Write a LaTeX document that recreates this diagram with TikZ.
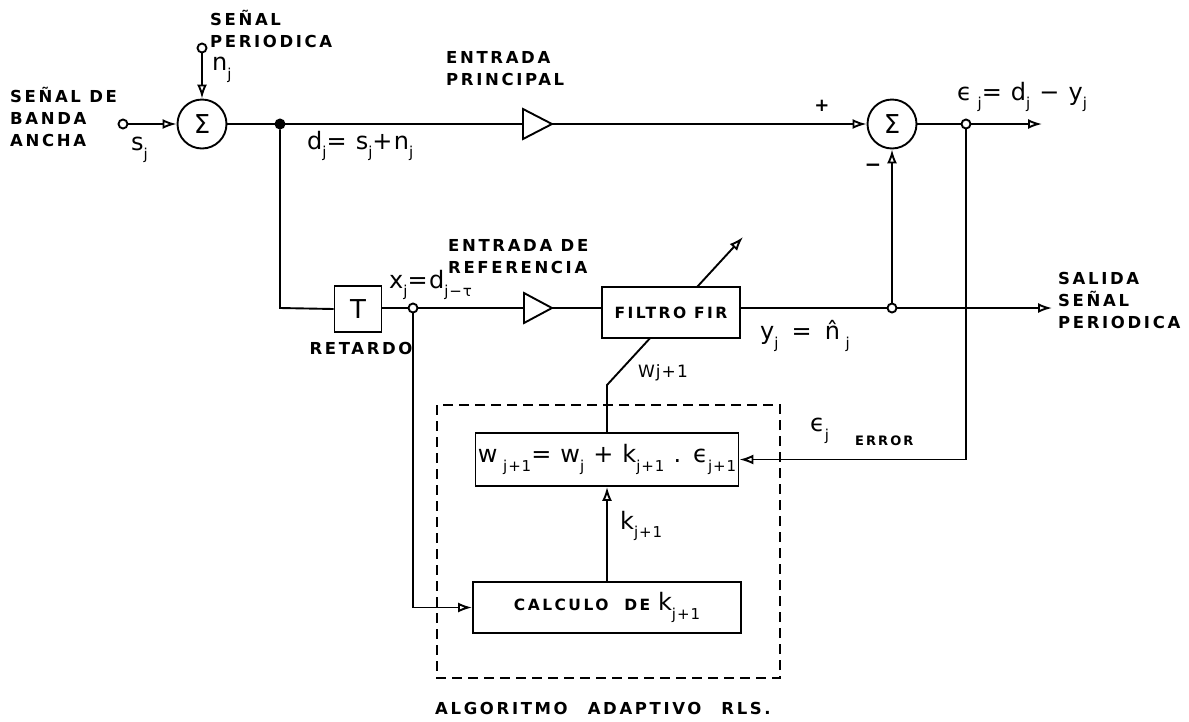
\documentclass[tikz,border=0pt]{standalone}
\usepackage{fontspec}
\setmainfont{DejaVu Sans}
\newfontfamily\capf[LetterSpace=16]{DejaVu Sans}
\newfontfamily\labf[LetterSpace=6]{DejaVu Sans}
\usetikzlibrary{arrows.meta}
\newcommand\sbs[1]{\raisebox{-0.35em}{\fontsize{15}{15}\selectfont #1}}
\tikzset{
  wire/.style={line width=1.9pt},
  arr/.style={wire,-{Latex[open,length=14pt,width=10pt]}},
  caps/.style={font=\capf\bfseries\fontsize{16.5}{22}\selectfont, align=left, inner sep=0},
  smallcaps/.style={font=\capf\bfseries\fontsize{13}{14}\selectfont, inner sep=0},
  lab/.style={font=\labf\fontsize{24}{24}\selectfont, inner sep=0},
  blk/.style={draw, line width=1.9pt, fill=white, inner sep=0},
  sumc/.style={draw, circle, line width=1.9pt, minimum size=49pt, inner sep=0, fill=white, font=\fontsize{26}{26}\selectfont},
  term/.style={draw, circle, line width=1.9pt, minimum size=9pt, inner sep=0, fill=white},
  junc/.style={draw, circle, line width=1.9pt, minimum size=9pt, inner sep=0, fill=white},
}
\begin{document}
\begin{tikzpicture}[x=1pt,y=-1pt]
\useasboundingbox (0,0) rectangle (1189,721);
\fill[white] (0,0) rectangle (1189,721);

% terminals and junctions
\node[term] (in) at (123,124) {};
\node[term] (pin) at (202,48) {};
\node[sumc] (s1) at (202,124) {Σ};
\node[junc,fill=black] (j1) at (280,124) {};
\node[sumc] (s2) at (892,124) {Σ};
\node[junc] (j2) at (966,124) {};
\coordinate (out1) at (1042,124);
\coordinate (c1) at (280,308);
\node[blk, minimum width=47pt, minimum height=46pt, font=\fontsize{26}{26}\selectfont] (T) at (358,309) {T};
\node[junc] (j4) at (413,308) {};
\node[junc] (j5) at (892,308) {};
\coordinate (out2) at (1052,308);

% amplifiers
\coordinate (a1w) at (523,124);
\coordinate (a1e) at (552,124);
\draw[wire] (523,109) -- (a1e) -- (523,139) -- cycle;
\coordinate (a2w) at (524,308);
\coordinate (a2e) at (552,308);
\draw[wire] (524,293) -- (a2e) -- (524,323) -- cycle;

% adaptive algorithm blocks
\draw[line width=2pt, dash pattern=on 10pt off 6pt] (437,405) rectangle (780,678);
\node[blk, minimum width=263pt, minimum height=53pt] (upd) at (607,459.5)
  {\labf\fontsize{24}{24}\selectfont w\sbs{ j+1}= w\sbs{j} + k\sbs{j+1} . ϵ\sbs{j+1}};
\node[blk, minimum width=268pt, minimum height=51pt] (calc) at (607,607.5)
  {\capf\bfseries\fontsize{15.5}{15.5}\selectfont CALCULO\ \ DE \mdseries\labf\fontsize{24}{24}\selectfont k\sbs{j+1}};

% adjustable filter arrow (drawn before the filter box)
\coordinate (dg1) at (607,385);
\coordinate (dg2) at (743,237);
\draw[arr] (upd.north) -- (dg1) -- (dg2);
\node[blk, minimum width=138pt, minimum height=51pt, font=\capf\bfseries\fontsize{15.5}{15.5}\selectfont] (fir) at (671,312.5) {FILTRO FIR};

% connectors
\draw[arr] (in) -- (s1.west);
\draw[arr] (pin) -- (s1.north);
\draw[wire] (s1.east) -- (j1) -- (a1w);
\draw[arr] (a1e) -- (s2.west);
\draw[wire] (s2.east) -- (j2);
\draw[arr] (j2) -- (out1);
\draw[wire] (j1) -- (c1) -- (T.west);
\draw[wire] (T.east |- j4) -- (j4) -- (a2w);
\draw[wire] (a2e) -- (a2e -| fir.west);
\draw[wire] (fir.east |- j5) -- (j5);
\draw[arr] (j5) -- (out2);
\draw[arr] (j5) -- (s2.south);
\draw[arr] (j2) -- (j2 |- upd.east) -- (upd.east);
\draw[arr] (j4) -- (j4 |- calc.west) -- (calc.west);
\draw[arr] (calc.north) -- (upd.south);

% labels
\node[caps, anchor=west] (lin) at (10,117) {SEÑAL DE\\BANDA\\ANCHA};
\node[caps, anchor=west] (lper) at (210,29) {SEÑAL\\PERIODICA};
\node[lab, anchor=west] (lnj) at (212,70) {n\sbs{j}};
\node[lab, anchor=west] (lsj) at (131,150) {s\sbs{j}};
\node[lab, anchor=west] (ldj) at (307,146) {d\sbs{j}= s\sbs{j}+n\sbs{j}};
\node[caps, anchor=west] (lep) at (446,69) {ENTRADA\\PRINCIPAL};
\node[font=\fontsize{18}{18}\selectfont\bfseries, inner sep=0] (lplus) at (822,106) {+};
\node[font=\fontsize{20}{20}\selectfont\bfseries, inner sep=0] (lminus) at (873,168) {−};
\node[lab, anchor=west] (lej) at (957,97) {ϵ\sbs{ j}= d\sbs{j} − y\sbs{j}};
\node[caps, anchor=west] (ler) at (448,257) {ENTRADA DE\\REFERENCIA};
\node[lab, anchor=west] (lxj) at (389,285) {x\sbs{j}=d\sbs{j−τ}};
\node[caps] (lret) at (361,348) {RETARDO};
\node[font=\labf\fontsize{17}{17}\selectfont, inner sep=0] (lw) at (663,373) {Wj+1};
\node[caps, anchor=west] (lsal) at (1058,300) {SALIDA\\SEÑAL\\PERIODICA};
\node[lab, anchor=west] (lyj) at (760,336) {y\sbs{j}\, = \,\^{n}\sbs{ j}};
\node[lab, anchor=west] (leps) at (810,431) {ϵ\sbs{j}};
\node[smallcaps, anchor=west] (lerr) at (855,441) {ERROR};
\node[lab, anchor=west] (lk) at (620,526) {k\sbs{j+1}};
\node[caps] (lalg) at (603,708) {ALGORITMO\hspace{20pt}ADAPTIVO\hspace{20pt}RLS.};
\end{tikzpicture}
\end{document}
